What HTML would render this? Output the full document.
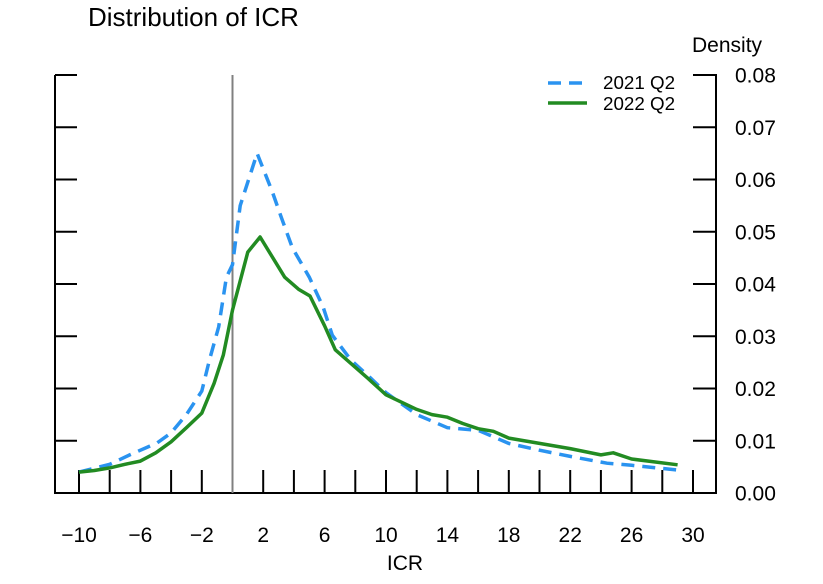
<!DOCTYPE html>
<html><head><meta charset="utf-8"><style>
body{margin:0;background:#fff;}
svg text{font-family:"Liberation Sans",Arial,sans-serif;fill:#000;}
</style></head><body>
<svg width="823" height="579" viewBox="0 0 823 579">
<text x="88" y="26" font-size="26">Distribution of ICR</text>
<text x="692" y="52" font-size="21">Density</text>
<text x="405" y="570" font-size="21" text-anchor="middle">ICR</text>
<g id="axes"></g>
<g id="series"></g>
<g>
<line x1="548" y1="83" x2="587" y2="83" stroke="#2a93f0" stroke-width="3.5" stroke-dasharray="13,8"/>
<text x="603" y="89" font-size="18.8">2021 Q2</text>
<line x1="548" y1="103" x2="587" y2="103" stroke="#228b22" stroke-width="3.5"/>
<text x="603" y="110" font-size="18.8">2022 Q2</text>
</g>
</svg>
<script>
const xTicks=[-10,-8,-6,-4,-2,0,2,4,6,8,10,12,14,16,18,20,22,24,26,28,30];
const xLabels=[-10,-6,-2,2,6,10,14,18,22,26,30];
const yTicks=[0,0.01,0.02,0.03,0.04,0.05,0.06,0.07,0.08];
const x2021=[-10,-8,-6.7,-4.9,-4,-3,-2,-1.5,-0.9,-0.4,0,0.5,1.6,2.6,3.2,3.9,5,5.9,6.5,7.7,9,10,12,14,16,18,20,22,24.4,26,29];
const y2021=[0.004,0.0055,0.0073,0.0096,0.0115,0.015,0.0195,0.0255,0.0318,0.0413,0.0437,0.055,0.065,0.0576,0.0526,0.0469,0.0413,0.0356,0.0302,0.0255,0.022,0.0192,0.015,0.0125,0.012,0.0095,0.0082,0.007,0.0057,0.0053,0.0044];
const x2022=[-10,-9,-8,-7,-6,-5,-4,-3,-2,-1.2,-0.6,0,1,1.8,3.4,4.3,5.05,6,6.7,8.8,10,12,13,14,15,16,17,18,20,22,24,24.8,26,29];
const y2022=[0.004,0.0043,0.0048,0.0055,0.0061,0.0077,0.0098,0.0125,0.0153,0.021,0.0264,0.035,0.0461,0.049,0.0413,0.039,0.0377,0.032,0.0274,0.022,0.0188,0.016,0.015,0.0145,0.0133,0.0123,0.0118,0.0105,0.0095,0.0085,0.0073,0.0077,0.0065,0.0054];
const X=v=>232.5+v*15.35;
const Y=v=>493-v*5225;
const NS="http://www.w3.org/2000/svg";
const axes=document.getElementById('axes'),series=document.getElementById('series');
function mk(tag,attrs,parent){const e=document.createElementNS(NS,tag);for(const k in attrs)e.setAttribute(k,attrs[k]);parent.appendChild(e);return e;}
const frame=mk('path',{d:'M55,75 L77,75 M55,75 L55,493 L716,493 L716,75 L693,75',fill:'none',stroke:'#000','stroke-width':2},axes);


yTicks.forEach(t=>{
 const l=mk('line',{x1:55,x2:77,y1:Y(t),y2:Y(t),stroke:'#000','stroke-width':2},axes);
 
 
 const r=mk('line',{x1:693,x2:716,y1:Y(t),y2:Y(t),stroke:'#000','stroke-width':2},axes);
 
 
 const tx=mk('text',{x:735,y:Y(t)+7.5,'font-size':21},axes);
 tx.textContent=t.toFixed(2);
 
 
});
xTicks.forEach(t=>{
 const l=mk('line',{x1:X(t),x2:X(t),y1:493,y2:470,stroke:'#000','stroke-width':2},axes);
 
 
});
xLabels.forEach(t=>{
 const tx=mk('text',{x:X(t),y:542,'font-size':21,'text-anchor':'middle'},axes);
 tx.textContent=(t<0?'\u2212'+(-t):String(t));
 
 
});
const zl=mk('line',{x1:X(0),x2:X(0),y1:75,y2:493,stroke:'#808080','stroke-width':2},axes);


function pts(xs,ys){return xs.map((x,i)=>X(x).toFixed(1)+','+Y(ys[i]).toFixed(1)).join(' ');}
const s1=mk('polyline',{points:pts(x2021,y2021),fill:'none',stroke:'#2a93f0','stroke-width':3.5,'stroke-dasharray':'13,8'},series);


const s2=mk('polyline',{points:pts(x2022,y2022),fill:'none',stroke:'#228b22','stroke-width':3.5,'stroke-linejoin':'round'},series);


</script>
</body></html>
